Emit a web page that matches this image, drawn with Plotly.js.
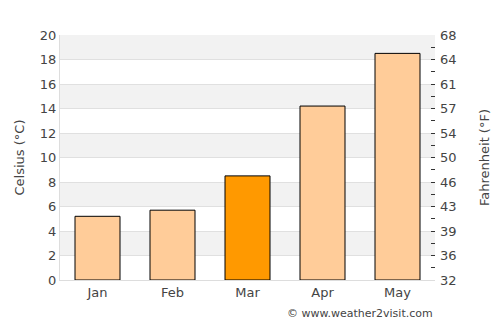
<!DOCTYPE html>
<html>
<head>
<meta charset="utf-8">
<script src="https://cdn.plot.ly/plotly-3.0.1.min.js"></script>
<style>html,body{margin:0;padding:0;background:#fff}#chart{width:500px;height:325px}</style>
</head>
<body>
<div id="chart"></div>
<script>
const months = ["Jan", "Feb", "Mar", "Apr", "May"];
const celsius = [5.2, 5.7, 8.5, 14.2, 18.5];
const highlightMonth = "Mar";
const celsiusTicks = [0, 2, 4, 6, 8, 10, 12, 14, 16, 18, 20];
const fahrenheitLabels = ["32", "36", "39", "43", "46", "50", "54", "57", "61", "64", "68"];
const bandStarts = [2, 6, 10, 14, 18];

const colors = months.map(m => m === highlightMonth ? "#ff9900" : "#ffcc99");
const fTickVals = celsiusTicks.map(c => 32 + c * 1.8);

const font = {family: "DejaVu Sans, sans-serif", size: 13, color: "#444"};

const shapes = bandStarts.map(b => ({
  type: "rect", xref: "paper", yref: "y", x0: 0, x1: 1, y0: b, y1: b + 2,
  fillcolor: "#f2f2f2", line: {width: 0}, layer: "below"
}));

const data = [
  {type: "bar", x: months, y: celsius, marker: {color: colors, line: {color: "#000", width: 1}},
   width: 0.6, hoverinfo: "skip"},
  {type: "scatter", x: months, y: celsius.map(c => 32 + c * 1.8), yaxis: "y2",
   mode: "markers", marker: {opacity: 0}, hoverinfo: "skip", showlegend: false}
];

const layout = {
  width: 500, height: 325,
  margin: {l: 60, r: 65, t: 35, b: 45},
  paper_bgcolor: "#fff", plot_bgcolor: "#fff",
  showlegend: false,
  font: font,
  shapes: shapes,
  bargap: 0.4,
  xaxis: {
    showgrid: false, showline: true, linecolor: "#dddddd", linewidth: 1,
    ticks: "", tickfont: font, zeroline: false
  },
  yaxis: {
    range: [0, 20], tickvals: celsiusTicks, ticks: "", tickfont: font,
    showgrid: true, gridcolor: "#e0e0e0", gridwidth: 1,
    showline: true, linecolor: "#dddddd", zeroline: false,
    title: {text: "Celsius (°C)", font: font, standoff: 12}
  },
  yaxis2: {
    overlaying: "y", side: "right", range: [32, 68],
    tickmode: "array", tickvals: fTickVals, ticktext: fahrenheitLabels,
    ticks: "inside", ticklen: 4, tickcolor: "#333", tickfont: font,
    ticklabelstandoff: 4,
    minor: {tickmode: "linear", tick0: 32, dtick: 1.8, ticks: "inside", ticklen: 4, tickcolor: "#333", showgrid: false},
    showgrid: false, zeroline: false, showline: false,
    title: {text: "Fahrenheit (°F)", font: font, standoff: 24}
  },
  annotations: [{
    text: "© www.weather2visit.com", xref: "paper", yref: "paper", x: 1, y: 0,
    xanchor: "right", yanchor: "top", yshift: -25, showarrow: false,
    font: {family: "DejaVu Sans, sans-serif", size: 11, color: "#444"}
  }]
};

Plotly.newPlot("chart", data, layout, {displayModeBar: false, staticPlot: true});
</script>
</body>
</html>
